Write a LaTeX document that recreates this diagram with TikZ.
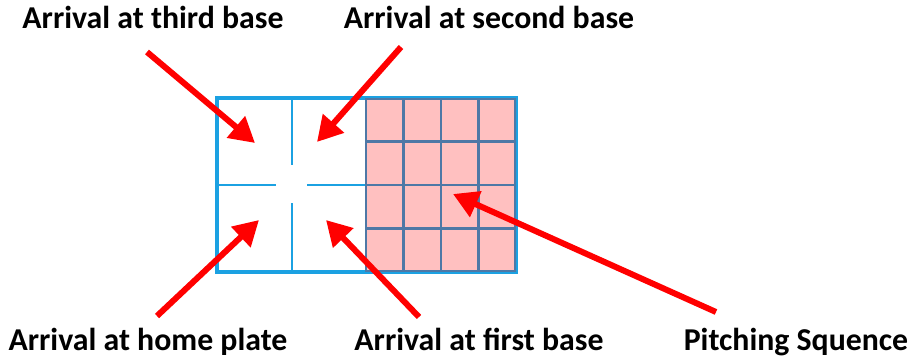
\documentclass[tikz,border=0pt]{standalone}
\usepackage{fontspec}
\setmainfont{Carlito}
\usetikzlibrary{arrows.meta}

\definecolor{fieldblue}{HTML}{1BA1E2}
\definecolor{gridblue}{HTML}{4E78A6}
\definecolor{pitchpink}{HTML}{FFC0C0}

\tikzset{
  label/.style={font=\fontsize{31.8}{36}\selectfont\bfseries, anchor=base, inner sep=0pt},
  redarrow/.style={draw=red, fill=red, line width=6pt, -{Triangle[length=25pt,width=27pt]}},
}

\begin{document}
\begin{tikzpicture}[x=1pt,y=-1pt]

		\useasboundingbox (0,0) rectangle (914,359);

		% pitching grid
		\fill[pitchpink] (366,98) rectangle (516,272);

		% field
		\draw[fieldblue, line width=4pt] (217,98) rectangle (516,272);
		\draw[fieldblue, line width=2pt] (292,98) -- (292,165);
		\draw[fieldblue, line width=2pt] (292,203) -- (292,272);
		\draw[fieldblue, line width=2pt] (217,185) -- (276,185);
		\draw[fieldblue, line width=2pt] (307,185) -- (366,185);

		\foreach \gx in {403.5,441,478.5}
			\draw[gridblue, line width=2.5pt] (\gx,98) -- (\gx,272);
		\foreach \gy in {141.5,185,228.5}
			\draw[gridblue, line width=2.5pt] (366,\gy) -- (516,\gy);
		\draw[gridblue, line width=2.5pt] (366,99) rectangle (515,271);

		% labels
		\node[label] (third)  at (153,28)  {Arrival at third base};
		\node[label] (second) at (489,28)  {Arrival at second base};
		\node[label] (home)   at (148,350) {Arrival at home plate};
		\node[label] (first)  at (479,350) {Arrival at first base};
		\node[label] (pitch)  at (796,350) {Pitching Squence};

		% arrow ends
		\coordinate (T1) at (147,52);
		\coordinate (T2) at (401,47);
		\coordinate (T3) at (157,316);
		\coordinate (T4) at (419,317);
		\coordinate (T5) at (716,312);
		\coordinate (H1) at (255,143);
		\coordinate (H2) at (317,142);
		\coordinate (H3) at (259,220);
		\coordinate (H4) at (326,220);
		\coordinate (H5) at (453,194);

		\draw[redarrow] (T1) -- (H1);
		\draw[redarrow] (T2) -- (H2);
		\draw[redarrow] (T3) -- (H3);
		\draw[redarrow] (T4) -- (H4);
		\draw[redarrow] (T5) -- (H5);
		\end{tikzpicture}
\end{document}
